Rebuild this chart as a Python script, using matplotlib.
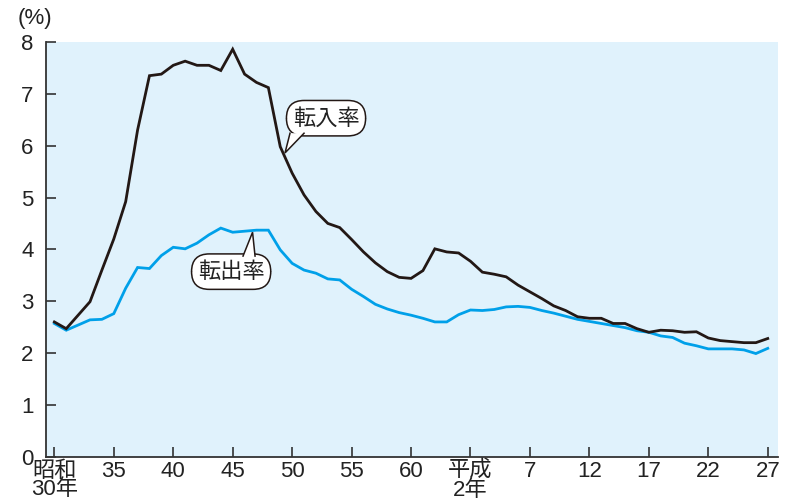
import matplotlib
matplotlib.use("Agg")
import matplotlib.pyplot as plt
from matplotlib import font_manager

# 年次: 昭和30年(1955) ～ 平成27年(2015)
years = list(range(1955, 2016))

# 転入率 (%)
in_rate = [2.60, 2.47, 2.73, 2.99, 3.60, 4.20, 4.92, 6.30, 7.35, 7.38,
           7.55, 7.63, 7.55, 7.55, 7.45, 7.86, 7.38, 7.22, 7.12, 5.98,
           5.47, 5.05, 4.73, 4.50, 4.42, 4.19, 3.95, 3.74, 3.57, 3.46,
           3.44, 3.59, 4.01, 3.95, 3.93, 3.77, 3.56, 3.52, 3.47, 3.31,
           3.18, 3.05, 2.91, 2.82, 2.70, 2.67, 2.67, 2.57, 2.57, 2.47,
           2.40, 2.44, 2.43, 2.40, 2.41, 2.29, 2.24, 2.22, 2.20, 2.20,
           2.28]

# 転出率 (%)
out_rate = [2.57, 2.44, 2.54, 2.64, 2.65, 2.76, 3.25, 3.65, 3.63, 3.88,
            4.04, 4.01, 4.12, 4.28, 4.41, 4.33, 4.35, 4.37, 4.37, 3.99,
            3.73, 3.60, 3.54, 3.43, 3.41, 3.23, 3.09, 2.94, 2.85, 2.78,
            2.73, 2.67, 2.60, 2.60, 2.74, 2.83, 2.82, 2.84, 2.89, 2.90,
            2.88, 2.82, 2.77, 2.71, 2.65, 2.61, 2.57, 2.53, 2.49, 2.43,
            2.40, 2.33, 2.30, 2.19, 2.14, 2.08, 2.08, 2.08, 2.06, 1.99,
            2.09]

tick_years = [1955, 1960, 1965, 1970, 1975, 1980, 1985, 1990, 1995, 2000, 2005, 2010, 2015]
tick_labels = ["昭和\n30年", "35", "40", "45", "50", "55", "60", "平成\n2年",
               "7", "12", "17", "22", "27"]
y_ticks = [0, 1, 2, 3, 4, 5, 6, 7, 8]

installed = {f.name for f in font_manager.fontManager.ttflist}
num_font = "Liberation Sans Narrow" if "Liberation Sans Narrow" in installed else "Liberation Sans"
fonts = [num_font, "Noto Sans CJK JP", "DejaVu Sans"]
plt.rcParams["font.family"] = fonts

BLACK = "#231815"
BLUE = "#00A0E9"
AXIS = "#333333"

fig = plt.figure(figsize=(7.92, 5.01), dpi=100)
ax = fig.add_axes([0.0581, 0.0884, 0.9239, 0.8278])
ax.set_facecolor("#E0F2FC")

ax.plot(years, out_rate, color=BLUE, lw=2.0, zorder=3, solid_joinstyle="miter")
ax.plot(years, in_rate, color=BLACK, lw=2.0, zorder=4, solid_joinstyle="miter")

ax.set_xlim(1954.3, 2015.84)
ax.set_ylim(0, 8)
ax.set_xticks(tick_years)
ax.set_xticklabels(tick_labels, linespacing=0.85)
ax.set_yticks(y_ticks)

for s in ["top", "right"]:
    ax.spines[s].set_visible(False)
for s in ["left", "bottom"]:
    ax.spines[s].set_color(AXIS)
    ax.spines[s].set_linewidth(1.3)

ax.tick_params(axis="both", direction="in", length=7, width=1.2, color=AXIS,
               labelsize=16, labelcolor="#222222")
ax.tick_params(axis="y", pad=9)
ax.tick_params(axis="x", pad=3)
for lbl in ax.get_xticklabels():
    lbl.set_verticalalignment("top")

fig.text(0.044, 0.964, "(%)", fontsize=16, ha="center", va="center", color="#222222")


def callout(ax, text, xy, tip, base):
    ax.text(xy[0], xy[1], text, fontsize=16, ha="center", va="center", zorder=6,
            family=["Noto Sans CJK JP"], color="#222222",
            bbox=dict(boxstyle="round,pad=0.28,rounding_size=0.8",
                      fc="white", ec=BLACK, lw=1.1))
    xs = [base[0][0], tip[0], base[1][0]]
    ys = [base[0][1], tip[1], base[1][1]]
    ax.fill(xs, ys, color="white", zorder=7, lw=0)
    ax.plot(xs, ys, color=BLACK, lw=1.1, zorder=8, solid_joinstyle="miter")


callout(ax, "転入率", (1977.85, 6.53), (1974.40, 5.86),
        [(1974.82, 6.24), (1976.0, 6.24)])
callout(ax, "転出率", (1969.87, 3.57), (1971.67, 4.33),
        [(1970.87, 3.87), (1971.88, 3.87)])

fig.savefig("out.png", dpi=100)
